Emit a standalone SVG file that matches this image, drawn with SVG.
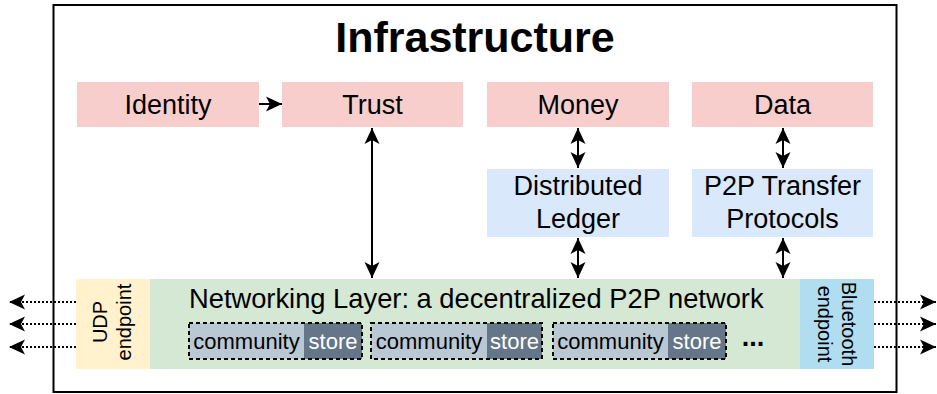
<svg xmlns="http://www.w3.org/2000/svg" width="937" height="394" viewBox="0 0 937 394">
<style>
text{font-family:"Liberation Sans",Arial,sans-serif;fill:#000}
.lbl{font-size:27px;text-anchor:middle}
.sm{font-size:22px;text-anchor:middle}
.ep{font-size:20px;text-anchor:middle}
.pink{fill:#f8cecc}
.blue{fill:#dae8fc}
.ln{stroke:#000;stroke-width:2;fill:none}
.dot{stroke:#000;stroke-width:2;fill:none;stroke-dasharray:2 2}
.comm{fill:#bac8d3}
.store{fill:#647687}
.dash{fill:none;stroke:#000;stroke-width:2;stroke-dasharray:4 3}
</style>
<defs>
<marker id="ah" viewBox="-17 -9 18 18" refX="0" refY="0" markerWidth="18" markerHeight="18" markerUnits="userSpaceOnUse" orient="auto-start-reverse">
<path d="M0,0 L-16,-7.5 L-12,0 L-16,7.5 Z" fill="#000" stroke="none"/>
</marker>
</defs>
<rect width="937" height="394" fill="#fff"/>
<rect id="frame" x="53.5" y="5" width="843" height="387" fill="#fff" stroke="#000" stroke-width="2"/>
<text x="475" y="52" style="font-size:43px;font-weight:bold;text-anchor:middle">Infrastructure</text>
<g id="identity"><rect class="pink" x="77" y="82" width="182" height="45"/><text class="lbl" x="168" y="114">Identity</text></g>
<g id="trust"><rect class="pink" x="282" y="82" width="181" height="45"/><text class="lbl" x="372.5" y="114">Trust</text></g>
<g id="money"><rect class="pink" x="487" y="82" width="182" height="45"/><text class="lbl" x="578" y="114">Money</text></g>
<g id="data"><rect class="pink" x="692" y="82" width="181" height="45"/><text class="lbl" x="782.5" y="114">Data</text></g>
<g id="ledger"><rect class="blue" x="487" y="169" width="182" height="68"/><text class="lbl" x="578" y="195">Distributed</text><text class="lbl" x="578" y="228">Ledger</text></g>
<g id="p2p"><rect class="blue" x="692" y="169" width="181" height="68"/><text class="lbl" x="782.5" y="195">P2P Transfer</text><text class="lbl" x="782.5" y="228">Protocols</text></g>
<g id="network"><rect x="150" y="279" width="650" height="90" fill="#d5e8d4"/><text x="189" y="308" style="font-size:27.3px">Networking Layer: a decentralized P2P network</text>
<text x="753" y="346" style="font-size:27px;text-anchor:middle;font-weight:bold">...</text></g>
<g id="community1"><rect class="comm" x="189" y="323" width="115" height="36"/><rect class="store" x="304" y="323" width="58" height="36"/><rect class="dash" x="189" y="323" width="173" height="36"/><text class="sm" x="246.5" y="349">community</text><text class="sm" x="333" y="349" style="fill:#fff">store</text></g>
<g id="community2"><rect class="comm" x="371" y="323" width="116" height="36"/><rect class="store" x="487" y="323" width="55" height="36"/><rect class="dash" x="371" y="323" width="171" height="36"/><text class="sm" x="429" y="349">community</text><text class="sm" x="514.5" y="349" style="fill:#fff">store</text></g>
<g id="community3"><rect class="comm" x="553" y="323" width="115" height="36"/><rect class="store" x="668" y="323" width="58" height="36"/><rect class="dash" x="553" y="323" width="173" height="36"/><text class="sm" x="610.5" y="349">community</text><text class="sm" x="697" y="349" style="fill:#fff">store</text></g>
<g id="udp"><rect x="76" y="279" width="74" height="90" fill="#fff2cc"/><text class="ep" transform="translate(113,322) rotate(-90)"><tspan x="0" y="-6">UDP</tspan><tspan x="0" y="18">endpoint</tspan></text></g>
<g id="bluetooth"><rect x="800" y="279" width="74" height="90" fill="#b1ddf0"/><text class="ep" transform="translate(829.5,324) rotate(90)"><tspan x="0" y="-12">Bluetooth</tspan><tspan x="0" y="12">endpoint</tspan></text></g>
<g id="connectors">
<line class="ln" x1="259" y1="104" x2="282" y2="104" marker-end="url(#ah)"/>
<line class="ln" x1="372" y1="128" x2="372" y2="278" marker-start="url(#ah)" marker-end="url(#ah)"/>
<line class="ln" x1="578" y1="128" x2="578" y2="168" marker-start="url(#ah)" marker-end="url(#ah)"/>
<line class="ln" x1="578" y1="238" x2="578" y2="278" marker-start="url(#ah)" marker-end="url(#ah)"/>
<line class="ln" x1="783" y1="128" x2="783" y2="168" marker-start="url(#ah)" marker-end="url(#ah)"/>
<line class="ln" x1="783" y1="238" x2="783" y2="278" marker-start="url(#ah)" marker-end="url(#ah)"/>
<line class="dot" x1="76" y1="302" x2="9" y2="302" marker-end="url(#ah)"/>
<line class="dot" x1="76" y1="324" x2="9" y2="324" marker-end="url(#ah)"/>
<line class="dot" x1="76" y1="347" x2="9" y2="347" marker-end="url(#ah)"/>
<line class="dot" x1="874" y1="302" x2="936" y2="302" marker-end="url(#ah)"/>
<line class="dot" x1="874" y1="324" x2="936" y2="324" marker-end="url(#ah)"/>
<line class="dot" x1="874" y1="347" x2="936" y2="347" marker-end="url(#ah)"/>
</g>
</svg>
